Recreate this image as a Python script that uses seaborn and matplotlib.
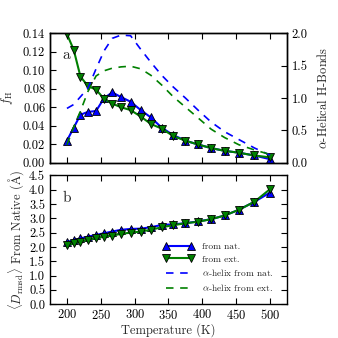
"""
Helix content and structural drift vs. temperature (two stacked panels).
"""

import matplotlib
matplotlib.use("Agg")
import matplotlib.pyplot as plt
import pandas as pd
import seaborn as sns

# ---------------------------------------------------------------------------
# Data
# ---------------------------------------------------------------------------

temperature = [200, 210, 220, 231, 243, 255, 267, 280, 294, 309,
               324, 340, 357, 375, 393, 413, 433, 454, 477, 500]

# panel a, left axis: helical fraction
fh_nat = [0.024, 0.038, 0.052, 0.055, 0.056, 0.070, 0.076, 0.071, 0.066, 0.057,
          0.049, 0.038, 0.030, 0.024, 0.020, 0.016, 0.013, 0.011, 0.008, 0.004]
fh_ext = [0.139, 0.122, 0.093, 0.083, 0.079, 0.069, 0.064, 0.060, 0.057, 0.050,
          0.042, 0.037, 0.029, 0.024, 0.020, 0.016, 0.013, 0.011, 0.008, 0.006]

# panel a, right axis: alpha-helical H-bonds
hb_nat = [0.84, 0.90, 1.02, 1.15, 1.45, 1.73, 1.92, 1.97, 1.96, 1.75,
          1.55, 1.35, 1.17, 1.00, 0.82, 0.63, 0.48, 0.36, 0.23, 0.12]
hb_ext = [0.28, 0.55, 0.80, 1.10, 1.34, 1.42, 1.46, 1.48, 1.49, 1.45,
          1.35, 1.20, 1.02, 0.86, 0.70, 0.52, 0.39, 0.28, 0.20, 0.13]

# panel b: mean rmsd from native
d_nat = [2.17, 2.24, 2.30, 2.36, 2.42, 2.48, 2.54, 2.60, 2.63, 2.64,
         2.69, 2.77, 2.79, 2.83, 2.89, 2.97, 3.10, 3.30, 3.58, 3.90]
d_ext = [2.06, 2.13, 2.19, 2.25, 2.31, 2.36, 2.40, 2.46, 2.50, 2.54,
         2.60, 2.69, 2.76, 2.83, 2.88, 2.97, 3.10, 3.30, 3.58, 4.02]

legend_labels = ["from nat.", "from ext.",
                 r"$\alpha$-helix from nat.", r"$\alpha$-helix from ext."]

df = pd.DataFrame({
    "T": temperature,
    "fh_nat": fh_nat, "fh_ext": fh_ext,
    "hb_nat": hb_nat, "hb_ext": hb_ext,
    "d_nat": d_nat, "d_ext": d_ext,
})

# ---------------------------------------------------------------------------
# Style
# ---------------------------------------------------------------------------

sns.set_style("ticks")
plt.rcParams.update({
    "font.family": ["cmr10", "DejaVu Serif"],
    "mathtext.fontset": "cm",
    "axes.formatter.use_mathtext": True,
    "font.size": 9,
    "axes.linewidth": 1.0,
    "axes.edgecolor": "black",
    "xtick.direction": "in",
    "ytick.direction": "in",
    "xtick.major.size": 4,
    "ytick.major.size": 4,
    "xtick.major.pad": 2.5,
    "xtick.color": "black",
    "ytick.color": "black",
    "xtick.labelsize": 9,
    "ytick.labelsize": 9,
})

BLUE = "#0000ff"
GREEN = "#008000"

fig = plt.figure(figsize=(3.38, 3.38), dpi=100)
ax_a = fig.add_axes([0.148, 0.518, 0.701, 0.384])
ax_b = fig.add_axes([0.148, 0.100, 0.701, 0.381], sharex=ax_a)
ax_a2 = ax_a.twinx()

marker_kw = dict(markersize=6, markeredgecolor="black", markeredgewidth=0.6, linewidth=1.5)

# ---------------------------------------------------------------------------
# Panel a
# ---------------------------------------------------------------------------

sns.lineplot(data=df, x="T", y="fh_nat", ax=ax_a, color=BLUE, marker="^", **marker_kw)
sns.lineplot(data=df, x="T", y="fh_ext", ax=ax_a, color=GREEN, marker="v", **marker_kw)
sns.lineplot(data=df, x="T", y="hb_nat", ax=ax_a2, color=BLUE, linewidth=1.2,
             linestyle=(0, (4.5, 4)))
sns.lineplot(data=df, x="T", y="hb_ext", ax=ax_a2, color=GREEN, linewidth=1.2,
             linestyle=(0, (4.5, 4)))

ax_a.set_xlim(175, 525)
ax_a.set_ylim(0, 0.14)
ax_a.set_yticks([0.00, 0.02, 0.04, 0.06, 0.08, 0.10, 0.12, 0.14])
ax_a.set_yticklabels([f"{v:.2f}" for v in ax_a.get_yticks()])
ax_a.set_ylabel(r"$f_{\rm H}$", labelpad=6)
ax_a.set_xlabel("")
ax_a.tick_params(axis="x", top=True, bottom=True, labelbottom=False)
ax_a.tick_params(axis="y", left=True, right=False)

ax_a2.set_ylim(0, 2.0)
ax_a2.set_yticks([0.0, 0.5, 1.0, 1.5, 2.0])
ax_a2.set_yticklabels([f"{v:.1f}" for v in ax_a2.get_yticks()])
ax_a2.set_ylabel(r"$\alpha$-Helical H-Bonds", labelpad=6)
ax_a2.tick_params(axis="y", right=True, direction="in")

ax_a.text(0.07, 0.83, "a", transform=ax_a.transAxes, fontsize=11, va="center", ha="center")

# ---------------------------------------------------------------------------
# Panel b
# ---------------------------------------------------------------------------

sns.lineplot(data=df, x="T", y="d_nat", ax=ax_b, color=BLUE, marker="^", **marker_kw)
sns.lineplot(data=df, x="T", y="d_ext", ax=ax_b, color=GREEN, marker="v", **marker_kw)

ax_b.set_ylim(0, 4.5)
ax_b.set_yticks([0.0, 0.5, 1.0, 1.5, 2.0, 2.5, 3.0, 3.5, 4.0, 4.5])
ax_b.set_yticklabels([f"{v:.1f}" for v in ax_b.get_yticks()])
ax_b.set_xticks([200, 250, 300, 350, 400, 450, 500])
ax_b.set_xlabel("Temperature (K)", labelpad=1)
ax_b.set_ylabel(r"$\langle D_{\rm rmsd}\rangle$ From Native ($\rm\AA$)", labelpad=2)
ax_b.tick_params(axis="x", top=True, bottom=True)
ax_b.tick_params(axis="y", left=True, right=True)

ax_b.text(0.07, 0.82, "b", transform=ax_b.transAxes, fontsize=11, va="center", ha="center")

handles = [ax_a.lines[0], ax_a.lines[1], ax_a2.lines[0], ax_a2.lines[1]]
ax_b.legend(handles, legend_labels, loc="lower right", bbox_to_anchor=(0.98, 0.02),
            frameon=False, fontsize=6.8, numpoints=2, handlelength=3.2,
            labelspacing=0.4, handletextpad=0.9)

fig.savefig("out.png", dpi=100)
